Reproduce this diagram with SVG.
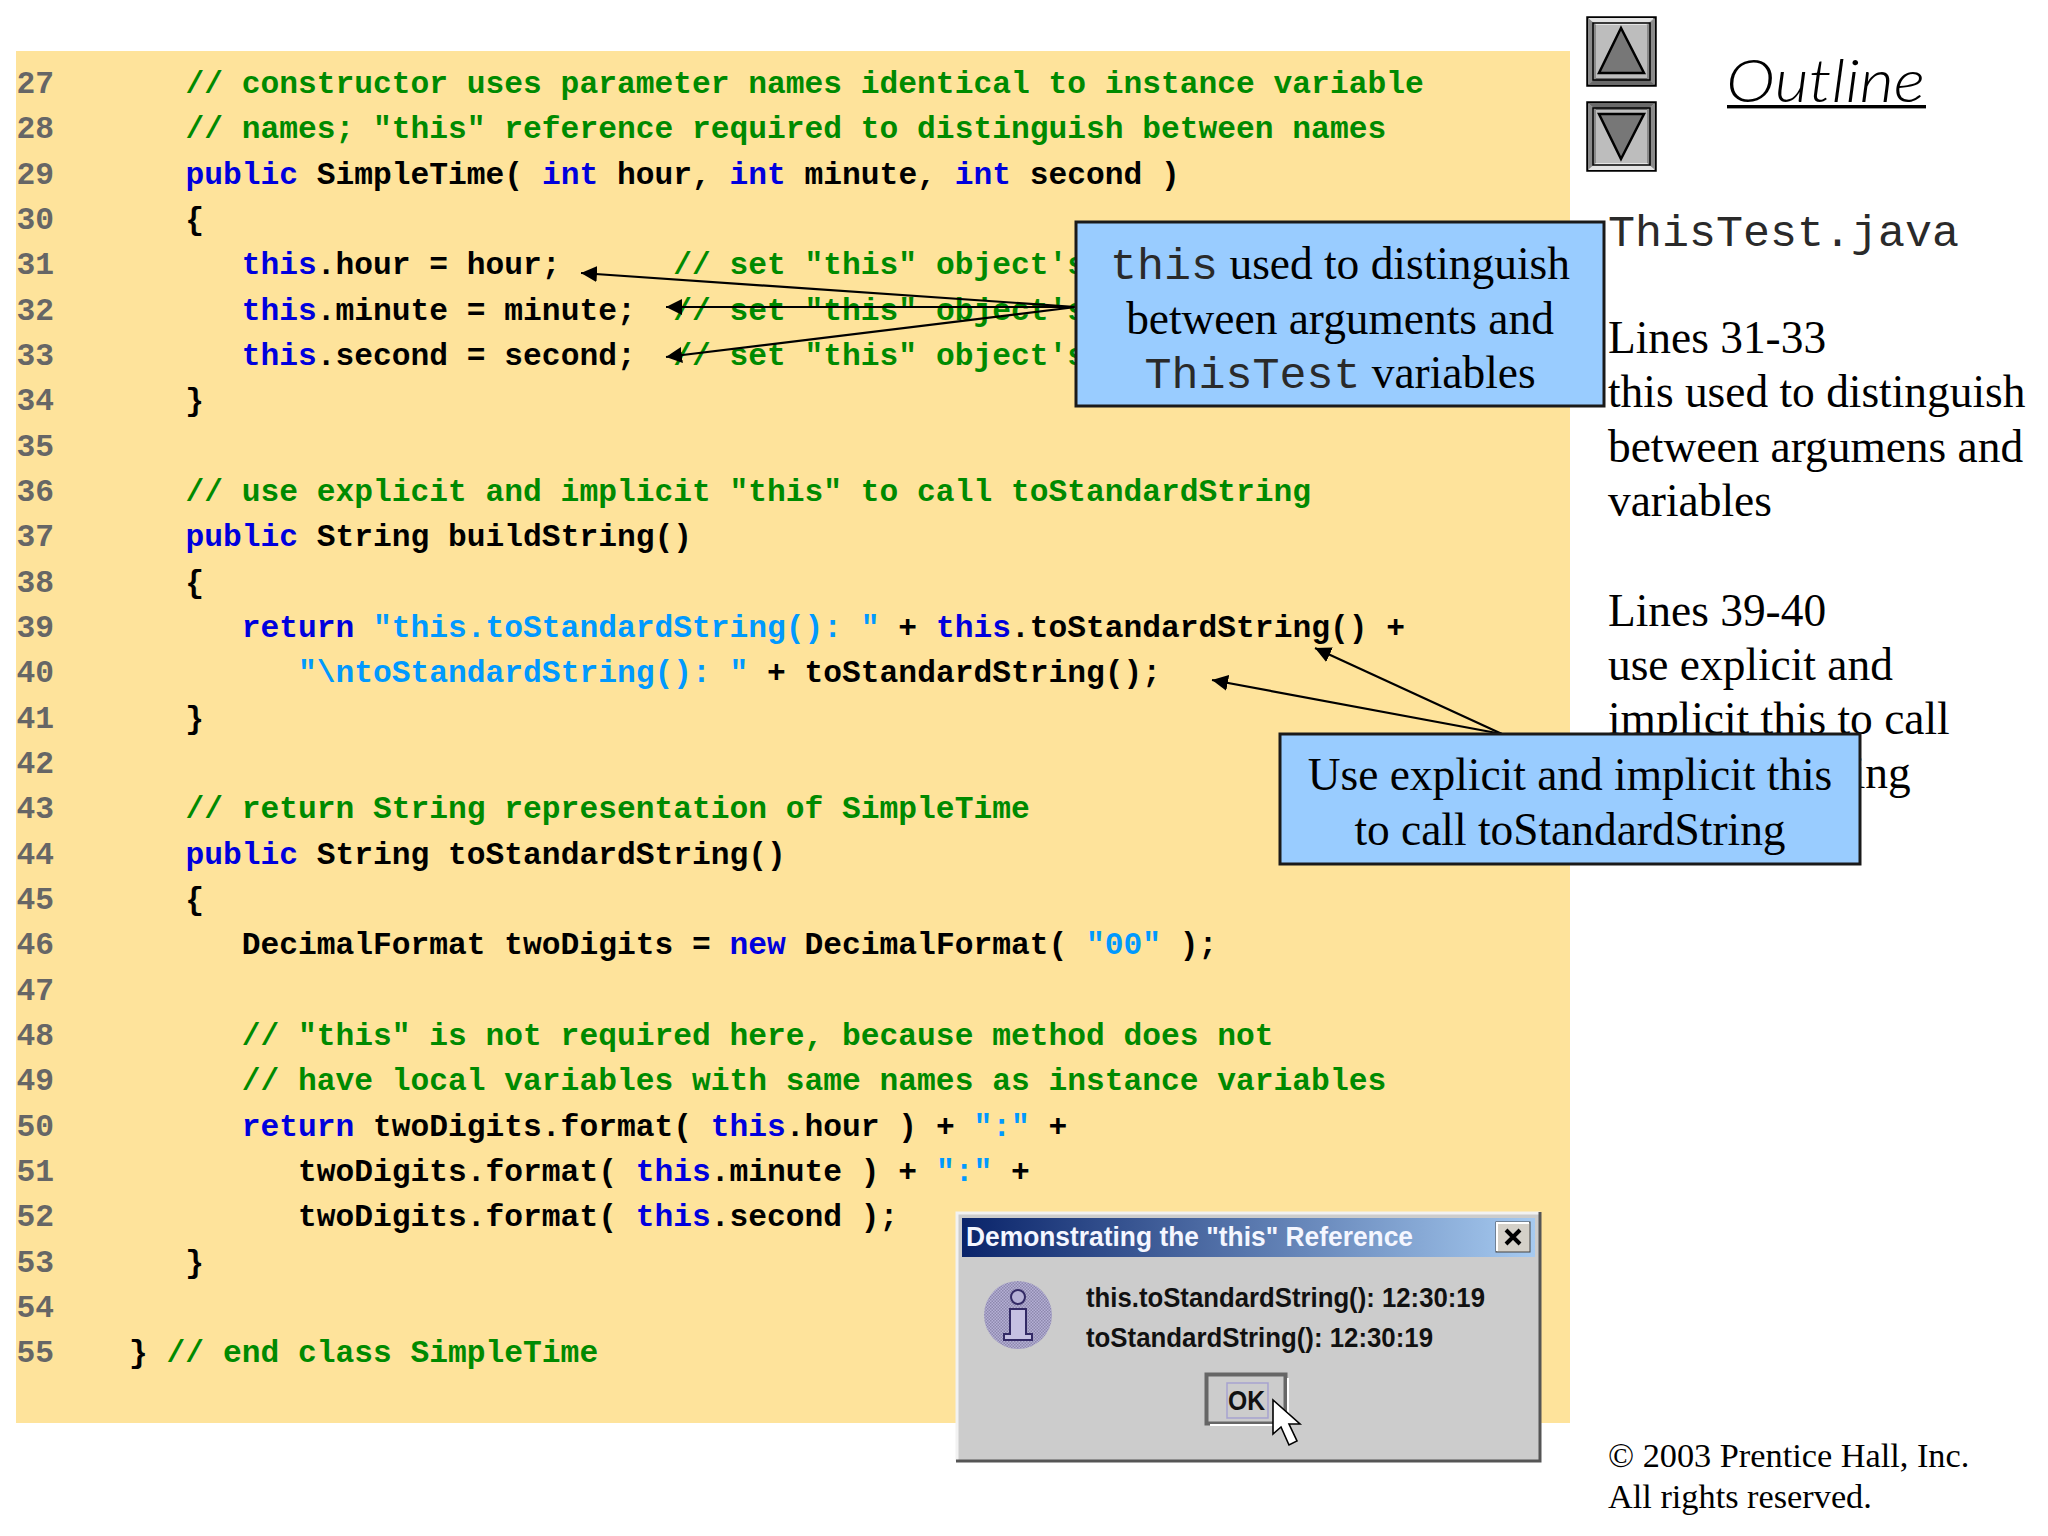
<svg xmlns="http://www.w3.org/2000/svg" width="2048" height="1536" viewBox="0 0 2048 1536">
<style>
text{font-family:"Liberation Serif","Times New Roman",serif;fill:#000}
.code text{font-family:"Liberation Mono","Courier New",monospace;font-size:31.27px;font-weight:700;white-space:pre;fill:#000}
.n{fill:#666}.c{fill:#008a00}.k{fill:#0000dd}.s{fill:#0099ff}
.side{font-size:45.4px}
.mono{font-family:"Liberation Mono","Courier New",monospace;font-size:45px;fill:#2a2a2a}
.call{fill:#99ccff;stroke:#1a1a1a;stroke-width:3}
.arrow{stroke:#000;stroke-width:2.2;fill:none;marker-end:url(#head)}
.mid{text-anchor:middle}
.dlg{font-family:"Liberation Sans",Arial,sans-serif;font-weight:700;font-size:27px;fill:#111}
.bevel{stroke:#000;stroke-width:2.5}
.tri{fill:#777;stroke:#000;stroke-width:2.5;stroke-linejoin:miter}
</style>
<defs>
<marker id="head" markerUnits="userSpaceOnUse" markerWidth="18" markerHeight="18" refX="16" refY="8" orient="auto"><path d="M0 0L16 8L0 16z" fill="#000"/></marker>
<linearGradient id="title"><stop offset="0" stop-color="#0a246a"/><stop offset="1" stop-color="#a6caf0"/></linearGradient>
<pattern id="dots" width="3" height="3" patternUnits="userSpaceOnUse"><rect width="3" height="3" fill="#b5b0d6"/><rect width="1.5" height="1.5" fill="#8d88ad"/><rect x="1.5" y="1.5" width="1.5" height="1.5" fill="#8d88ad"/></pattern>
</defs>
<rect width="2048" height="1536" fill="#fff"/>
<rect id="code-panel" x="16" y="51" width="1554" height="1372" fill="#fee39b"/>
<g id="code" class="code" transform="translate(16.5 1)">
<text y="92"><tspan class="n">27</tspan>       <tspan class="c">// constructor uses parameter names identical to instance variable</tspan></text>
<text y="137.3"><tspan class="n">28</tspan>       <tspan class="c">// names; "this" reference required to distinguish between names</tspan></text>
<text y="182.7"><tspan class="n">29</tspan>       <tspan class="k">public</tspan> SimpleTime( <tspan class="k">int</tspan> hour, <tspan class="k">int</tspan> minute, <tspan class="k">int</tspan> second )</text>
<text y="228"><tspan class="n">30</tspan>       {</text>
<text y="273.3"><tspan class="n">31</tspan>          <tspan class="k">this</tspan>.hour = hour;      <tspan class="c">// set "this" object's</tspan></text>
<text y="318.7"><tspan class="n">32</tspan>          <tspan class="k">this</tspan>.minute = minute;  <tspan class="c">// set "this" object's</tspan></text>
<text y="364"><tspan class="n">33</tspan>          <tspan class="k">this</tspan>.second = second;  <tspan class="c">// set "this" object's</tspan></text>
<text y="409.3"><tspan class="n">34</tspan>       }</text>
<text y="454.6"><tspan class="n">35</tspan></text>
<text y="500"><tspan class="n">36</tspan>       <tspan class="c">// use explicit and implicit "this" to call toStandardString</tspan></text>
<text y="545.3"><tspan class="n">37</tspan>       <tspan class="k">public</tspan> String buildString()</text>
<text y="590.6"><tspan class="n">38</tspan>       {</text>
<text y="636"><tspan class="n">39</tspan>          <tspan class="k">return</tspan> <tspan class="s">"this.toStandardString(): "</tspan> + <tspan class="k">this</tspan>.toStandardString() +</text>
<text y="681.3"><tspan class="n">40</tspan>             <tspan class="s">"\ntoStandardString(): "</tspan> + toStandardString();</text>
<text y="726.6"><tspan class="n">41</tspan>       }</text>
<text y="772"><tspan class="n">42</tspan></text>
<text y="817.3"><tspan class="n">43</tspan>       <tspan class="c">// return String representation of SimpleTime</tspan></text>
<text y="862.6"><tspan class="n">44</tspan>       <tspan class="k">public</tspan> String toStandardString()</text>
<text y="908"><tspan class="n">45</tspan>       {</text>
<text y="953.3"><tspan class="n">46</tspan>          DecimalFormat twoDigits = <tspan class="k">new</tspan> DecimalFormat( <tspan class="s">"00"</tspan> );</text>
<text y="998.6"><tspan class="n">47</tspan></text>
<text y="1044"><tspan class="n">48</tspan>          <tspan class="c">// "this" is not required here, because method does not</tspan></text>
<text y="1089.3"><tspan class="n">49</tspan>          <tspan class="c">// have local variables with same names as instance variables</tspan></text>
<text y="1134.6"><tspan class="n">50</tspan>          <tspan class="k">return</tspan> twoDigits.format( <tspan class="k">this</tspan>.hour ) + <tspan class="s">":"</tspan> +</text>
<text y="1180"><tspan class="n">51</tspan>             twoDigits.format( <tspan class="k">this</tspan>.minute ) + <tspan class="s">":"</tspan> +</text>
<text y="1225.3"><tspan class="n">52</tspan>             twoDigits.format( <tspan class="k">this</tspan>.second );</text>
<text y="1270.6"><tspan class="n">53</tspan>       }</text>
<text y="1316"><tspan class="n">54</tspan></text>
<text y="1361.3"><tspan class="n">55</tspan>    } <tspan class="c">// end class SimpleTime</tspan></text>
</g>
<g id="nav-up">
<rect x="1587.5" y="17.5" width="68" height="68" fill="#bdbdbd" class="bevel"/>
<path d="M1588 18L1654 18L1646 25L1596 25Z" fill="#e4e4e4"/><path d="M1588 18L1596 25L1596 78L1588 85Z" fill="#8a8a8a"/><path d="M1655 18L1647 25L1647 78L1655 85Z" fill="#8a8a8a"/><path d="M1588 85L1596 78L1647 78L1655 85Z" fill="#6a6a6a"/>
<rect x="1593" y="23" width="57" height="57" fill="none" stroke="#000" stroke-width="1.5"/>
<polygon points="1621,28 1599,73 1644,73" class="tri"/>
</g>
<g id="nav-down">
<rect x="1587.5" y="102.5" width="68" height="68" fill="#bdbdbd" class="bevel"/>
<path d="M1588 103L1655 103L1647 110L1596 110Z" fill="#6a6a6a"/><path d="M1588 103L1596 110L1596 163L1588 170Z" fill="#8a8a8a"/><path d="M1655 103L1647 110L1647 163L1655 170Z" fill="#8a8a8a"/><path d="M1588 170L1596 163L1647 163L1655 170Z" fill="#e4e4e4"/>
<rect x="1593" y="108" width="57" height="57" fill="none" stroke="#000" stroke-width="1.5"/>
<polygon points="1599,114 1644,114 1621,159" class="tri"/>
</g>
<g id="outline-title">
<text x="1726" y="102" style="font-family:Lato,'Open Sans',sans-serif;font-style:italic;font-weight:300" font-size="60" textLength="199" lengthAdjust="spacingAndGlyphs">Outline</text>
<rect x="1727" y="105" width="199" height="3.4" fill="#000"/>
</g>
<g id="side-notes">
<text x="1608" y="246" class="mono">ThisTest.java</text>
<text x="1608" y="353" class="side">Lines 31-33</text>
<text x="1608" y="407" class="side">this used to distinguish</text>
<text x="1608" y="461.5" class="side">between argumens and</text>
<text x="1608" y="516" class="side">variables</text>
<text x="1608" y="626" class="side">Lines 39-40</text>
<text x="1608" y="680" class="side">use explicit and</text>
<text x="1608" y="734" class="side">implicit this to call</text>
<text x="1603" y="788" class="side">toStandardString</text>
<text x="1608" y="1467" font-size="34.3">© 2003 Prentice Hall, Inc.</text>
<text x="1608" y="1508" font-size="34.3">All rights reserved.</text>
</g>
<g id="connectors">
<line x1="1076" y1="307" x2="581" y2="273" class="arrow"/>
<line x1="1076" y1="307" x2="666" y2="307" class="arrow"/>
<line x1="1076" y1="307" x2="666" y2="357" class="arrow"/>
<line x1="1502" y1="734" x2="1315" y2="648" class="arrow"/>
<line x1="1502" y1="734" x2="1212" y2="680" class="arrow"/>
</g>
<g id="callout-this">
<rect x="1076" y="222" width="528" height="184" class="call"/>
<text x="1340" y="279" class="side mid"><tspan class="mono">this</tspan> used to distinguish</text>
<text x="1340" y="333.5" class="side mid">between arguments and</text>
<text x="1340" y="388" class="side mid"><tspan class="mono">ThisTest</tspan> variables</text>
</g>
<g id="callout-explicit">
<rect x="1280" y="734" width="580" height="130" class="call"/>
<text x="1570" y="790" class="side mid">Use explicit and implicit this</text>
<text x="1570" y="845" class="side mid">to call toStandardString</text>
</g>
<g id="dialog">
<rect x="956" y="1212" width="585" height="250" fill="#cccccc"/>
<path d="M957 1461L957 1213L1540 1213" fill="none" stroke="#f2f2f2" stroke-width="3"/>
<path d="M956 1461L1540 1461L1540 1212" fill="none" stroke="#555" stroke-width="3"/>
<rect x="962" y="1218" width="573" height="39" fill="url(#title)"/>
<text x="966" y="1246" class="dlg" style="fill:#f4f6ff" textLength="447" lengthAdjust="spacingAndGlyphs">Demonstrating the "this" Reference</text>
<g id="dialog-close">
<rect x="1496" y="1222" width="34" height="30" fill="#d4d0c8" stroke="#444" stroke-width="1"/>
<path d="M1497 1251L1497 1223L1529 1223" fill="none" stroke="#fff" stroke-width="2"/>
<path d="M1506 1230L1520 1244M1520 1230L1506 1244" stroke="#000" stroke-width="4" fill="none"/>
</g>
<g id="dialog-icon">
<circle cx="1018" cy="1315" r="34" fill="url(#dots)"/>
<circle cx="1018" cy="1297" r="7" fill="#b5b0d6" stroke="#332a66" stroke-width="2"/>
<path d="M1010 1309H1026V1334H1032V1340H1004V1334H1010Z" fill="#c5c0e2" stroke="#332a66" stroke-width="2"/>
</g>
<text x="1086" y="1307" class="dlg" textLength="399" lengthAdjust="spacingAndGlyphs">this.toStandardString(): 12:30:19</text>
<text x="1086" y="1347" class="dlg" textLength="347" lengthAdjust="spacingAndGlyphs">toStandardString(): 12:30:19</text>
<g id="dialog-ok">
<rect x="1206.5" y="1374.5" width="79" height="49" fill="#cccccc" stroke="#666" stroke-width="4"/>
<path d="M1210 1425H1288V1378" fill="none" stroke="#fff" stroke-width="2"/>
<rect x="1227" y="1383" width="41" height="35" fill="none" stroke="#a6a2cf" stroke-width="1.5"/>
<text x="1228" y="1410" class="dlg" font-size="28" textLength="37" lengthAdjust="spacingAndGlyphs">OK</text>
</g>
<path id="dialog-cursor" d="M1273 1400V1434L1281 1427L1289 1445L1297 1441L1289 1424L1300 1424Z" fill="#fff" stroke="#000" stroke-width="1.6"/>
</g>
</svg>
